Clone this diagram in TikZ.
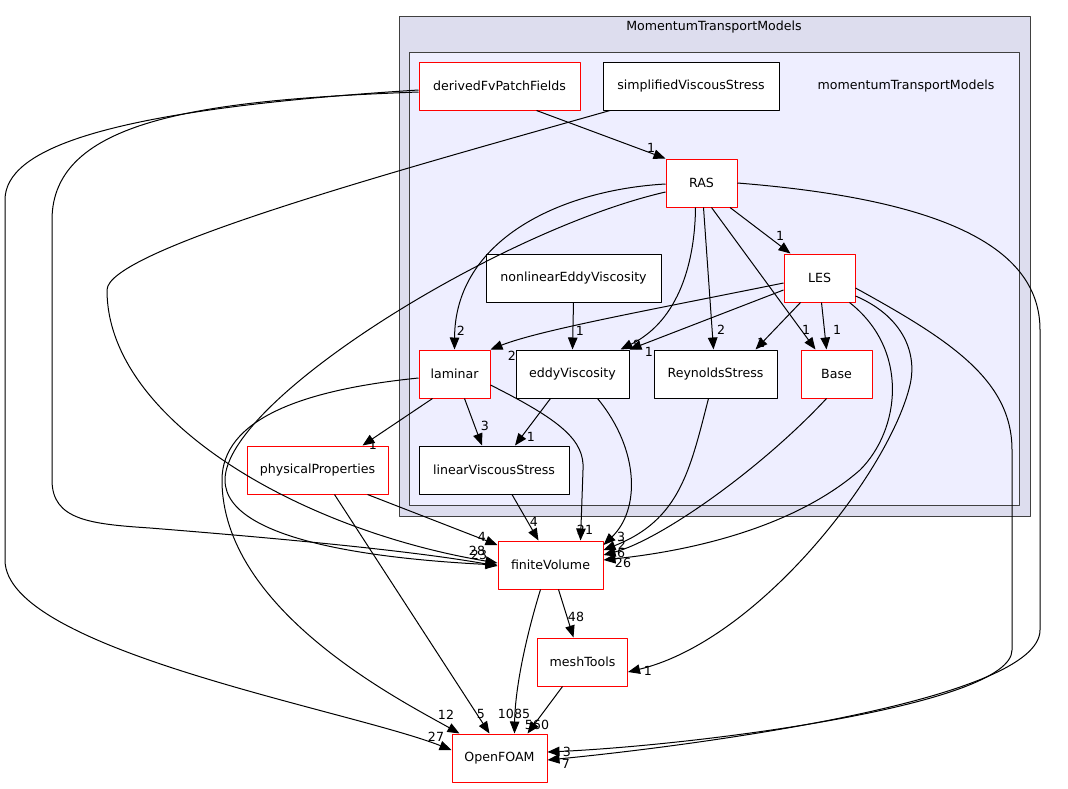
\documentclass[tikz,border=0pt]{standalone}
\usepackage{fontspec}
\setmainfont{DejaVu Sans}
\usetikzlibrary{arrows.meta}
\definecolor{outerfill}{HTML}{DDDDEE}
\definecolor{innerfill}{HTML}{EEEEFF}
\definecolor{frame}{HTML}{404040}

\begin{document}
\begin{tikzpicture}[x=1pt, y=-1pt, line join=round,
  dirbox/.style={draw=black, fill=white, line width=1pt, minimum height=48, inner sep=2pt, font=\fontsize{12.6}{15}\selectfont},
  redbox/.style={dirbox, draw=red},
  dep/.style={-{Triangle[length=12pt,width=9.5pt]}, line width=1pt, draw=black},
  num/.style={font=\fontsize{12.6}{15}\selectfont, inner sep=0pt}]

% canvas
\useasboundingbox (0,0) rectangle (1068,788);

% clusters
\draw[frame, fill=outerfill, line width=1pt] (399,16) rectangle (1030,516);
\node (outerTitle) at (714,27) [num] {MomentumTransportModels};
\draw[frame, fill=innerfill, line width=1pt] (409,52) rectangle (1019,505);
\node (innerTitle) at (906,86) [num] {momentumTransportModels};

% directories
\node[redbox, minimum width=161] (derived) at (499.5,86) {derivedFvPatchFields};
\node[dirbox, minimum width=176] (simplified) at (691,86) {simplifiedViscousStress};
\node[redbox, minimum width=71] (RAS) at (701.5,183) {RAS};
\node[redbox, minimum width=71] (LES) at (819.5,278) {LES};
\node[dirbox, minimum width=175] (nonlinear) at (573.5,278) {nonlinearEddyViscosity};
\node[redbox, minimum width=71] (laminar) at (454.5,374) {laminar};
\node[dirbox, minimum width=113] (eddy) at (572.5,374) {eddyViscosity};
\node[dirbox, minimum width=123] (reynolds) at (715.5,374) {ReynoldsStress};
\node[redbox, minimum width=71] (base) at (836.5,374) {Base};
\node[dirbox, minimum width=150] (linear) at (494,470) {linearViscousStress};
\node[redbox, minimum width=141] (physical) at (317.5,470) {physicalProperties};
\node[redbox, minimum width=105] (finiteVolume) at (550.5,565) {finiteVolume};
\node[redbox, minimum width=90] (meshTools) at (582.5,662) {meshTools};
\node[redbox, minimum width=95] (openFOAM) at (499.5,758) {OpenFOAM};

% dependencies out of the cluster
\draw[dep] ([xshift=37]derived.south) -- (RAS.north west);
\draw[dep] ([yshift=-6]derived.west) .. controls (200,100) and (52,120) .. (52,220)
  -- (52,480) .. controls (52,520) and (90,524) .. (150,528)
  .. controls (300,540) and (420,552) .. ([yshift=-1]finiteVolume.west);
\draw[dep] ([yshift=-4]derived.west) .. controls (100,110) and (5,150) .. (5,200)
  -- (5,560) .. controls (5,650) and (350,710) .. ([yshift=8]openFOAM.west);
\draw[dep] ([xshift=-81]simplified.south) .. controls (400,170) and (107,250) .. (107,290)
  .. controls (107,420) and (300,530) .. ([yshift=2]finiteVolume.west);
\draw[dep] ([yshift=-9]RAS.west) .. controls (500,230) and (225,400) .. (225,480)
  .. controls (225,545) and (400,560) .. (finiteVolume.west);
\draw[dep] ([yshift=-4]laminar.west) .. controls (300,390) and (222,420) .. (222,480)
  .. controls (222,610) and (400,700) .. ([xshift=-40]openFOAM.north);

% RAS
\draw[dep] ([yshift=-1]RAS.west) .. controls (560,190) and (455,240) .. (laminar.north);
\draw[dep] ([xshift=28.5]RAS.south) -- ([xshift=-29]LES.north);
\draw[dep] ([xshift=-6]RAS.south) .. controls (695,260) and (680,320) .. ([xshift=48]eddy.north);
\draw[dep] ([xshift=2]RAS.south) -- ([xshift=-2]reynolds.north);
\draw[dep] ([xshift=10]RAS.south) -- ([xshift=-21]base.north);
\draw[dep] (RAS.east) .. controls (950,200) and (1040,250) .. (1040,330)
  -- (1040,630) .. controls (1040,700) and (700,745) .. ([yshift=-2]openFOAM.east);

% LES
\draw[dep] ([yshift=-5]LES.west) .. controls (650,310) and (540,330) .. (laminar.north east);
\draw[dep] ([yshift=-12]LES.west) -- (eddy.north east);
\draw[dep] ([xshift=-19]LES.south) -- ([xshift=40]reynolds.north);
\draw[dep] ([xshift=2]LES.south) -- ([xshift=-10]base.north);
\draw[dep] ([xshift=30]LES.south) .. controls (910,350) and (900,430) .. (860,470)
  .. controls (780,540) and (650,555) .. ([yshift=5]finiteVolume.east);
\draw[dep] ([yshift=-18]LES.east) .. controls (900,315) and (918,350) .. (910,385)
  .. controls (890,470) and (760,640) .. ([yshift=-10]meshTools.east);
\draw[dep] ([yshift=-10]LES.east) .. controls (950,340) and (1012,380) .. (1012,450)
  -- (1012,650) .. controls (1012,705) and (700,745) .. ([yshift=6]openFOAM.east);

% inside the cluster
\draw[dep] (nonlinear.south) -- (eddy.north);
\draw[dep] ([xshift=-22]laminar.south) -- ([xshift=45]physical.north);
\draw[dep] ([xshift=10]laminar.south) -- ([xshift=-12]linear.north);
\draw[dep] ([yshift=-11]laminar.east) .. controls (560,420) and (585,440) .. (583,470)
  -- ([xshift=30]finiteVolume.north);
\draw[dep] ([xshift=-22]eddy.south) -- ([xshift=21]linear.north);
\draw[dep] ([xshift=25]eddy.south) .. controls (640,450) and (640,510) .. ([yshift=20]finiteVolume.east);
\draw[dep] ([xshift=-7]reynolds.south) .. controls (690,470) and (680,520) .. ([yshift=15]finiteVolume.east);
\draw[dep] ([xshift=-10]base.south) .. controls (760,470) and (660,540) .. ([yshift=10]finiteVolume.east);
\draw[dep] ([xshift=18]linear.south) -- ([xshift=-12]finiteVolume.north);

% below the cluster
\draw[dep] ([xshift=50]physical.south) -- ([yshift=20]finiteVolume.west);
\draw[dep] ([xshift=17]physical.south) -- ([xshift=-10]openFOAM.north);
\draw[dep] ([xshift=8]finiteVolume.south) -- ([xshift=-9]meshTools.north);
\draw[dep] ([xshift=-10]finiteVolume.south) .. controls (525,640) and (515,690) .. ([xshift=15]openFOAM.north);
\draw[dep] ([xshift=-20]meshTools.south) -- ([xshift=28]openFOAM.north);

% counts
\node[num] (nDerRAS) at (651,148) {1};
\node[num] (nDerFV) at (477,551) {28};
\node[num] (nSimFV) at (479,555) {23};
\node[num] (nDerOF) at (436,737) {27};
\node[num] (nLamOF) at (446,715) {12};
\node[num] (nRASLam) at (461,331) {2};
\node[num] (nRASLES) at (780,236) {1};
\node[num] (nRASEddy) at (637,345) {8};
\node[num] (nRASRey) at (721,330) {2};
\node[num] (nRASBase) at (806,330) {1};
\node[num] (nRASOF) at (566,764) {7};
\node[num] (nLESLam) at (512,356) {2};
\node[num] (nLESEddy) at (649,352) {1};
\node[num] (nLESRey) at (761,343) {1};
\node[num] (nLESBase) at (837,330) {1};
\node[num] (nLESFV) at (623,563) {26};
\node[num] (nLESMesh) at (648,671) {1};
\node[num] (nLESOF) at (567,752) {3};
\node[num] (nNonEddy) at (580,331) {1};
\node[num] (nLamPhys) at (373,445) {1};
\node[num] (nLamLin) at (485,426) {3};
\node[num] (nLamFV) at (585,530) {21};
\node[num] (nEddyLin) at (531,437) {1};
\node[num] (nEddyFV) at (621,537) {3};
\node[num] (nReyFV) at (622,545) {2};
\node[num] (nBaseFV) at (621,553) {6};
\node[num] (nLinFV) at (534,522) {4};
\node[num] (nPhysFV) at (482,537) {4};
\node[num] (nPhysOF) at (481,714) {5};
\node[num] (nFVMesh) at (576,617) {48};
\node[num] (nFVOF) at (514,714) {1085};
\node[num] (nMeshOF) at (537,725) {560};

\end{tikzpicture}
\end{document}
